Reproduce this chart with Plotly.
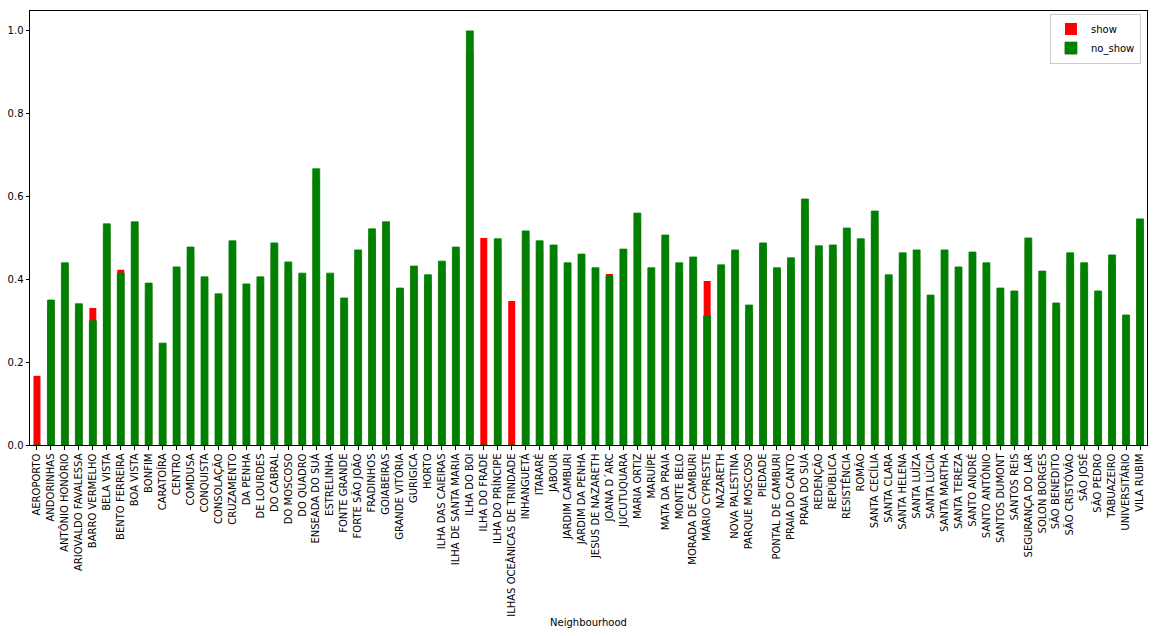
import plotly.graph_objects as go

neighbourhoods = [
    "AEROPORTO", "ANDORINHAS", "ANTÔNIO HONÓRIO", "ARIOVALDO FAVALESSA", "BARRO VERMELHO",
    "BELA VISTA", "BENTO FERREIRA", "BOA VISTA", "BONFIM", "CARATOÍRA",
    "CENTRO", "COMDUSA", "CONQUISTA", "CONSOLAÇÃO", "CRUZAMENTO",
    "DA PENHA", "DE LOURDES", "DO CABRAL", "DO MOSCOSO", "DO QUADRO",
    "ENSEADA DO SUÁ", "ESTRELINHA", "FONTE GRANDE", "FORTE SÃO JOÃO", "FRADINHOS",
    "GOIABEIRAS", "GRANDE VITÓRIA", "GURIGICA", "HORTO", "ILHA DAS CAIEIRAS",
    "ILHA DE SANTA MARIA", "ILHA DO BOI", "ILHA DO FRADE", "ILHA DO PRÍNCIPE",
    "ILHAS OCEÂNICAS DE TRINDADE", "INHANGUETÁ", "ITARARÉ", "JABOUR", "JARDIM CAMBURI",
    "JARDIM DA PENHA", "JESUS DE NAZARETH", "JOANA D´ARC", "JUCUTUQUARA", "MARIA ORTIZ",
    "MARUÍPE", "MATA DA PRAIA", "MONTE BELO", "MORADA DE CAMBURI", "MÁRIO CYPRESTE",
    "NAZARETH", "NOVA PALESTINA", "PARQUE MOSCOSO", "PIEDADE", "PONTAL DE CAMBURI",
    "PRAIA DO CANTO", "PRAIA DO SUÁ", "REDENÇÃO", "REPÚBLICA", "RESISTÊNCIA",
    "ROMÃO", "SANTA CECÍLIA", "SANTA CLARA", "SANTA HELENA", "SANTA LUÍZA",
    "SANTA LÚCIA", "SANTA MARTHA", "SANTA TEREZA", "SANTO ANDRÉ", "SANTO ANTÔNIO",
    "SANTOS DUMONT", "SANTOS REIS", "SEGURANÇA DO LAR", "SOLON BORGES", "SÃO BENEDITO",
    "SÃO CRISTÓVÃO", "SÃO JOSÉ", "SÃO PEDRO", "TABUAZEIRO", "UNIVERSITÁRIO", "VILA RUBIM",
]

# no_show values (green bars, drawn on top)
no_show = [
    0.000, 0.350, 0.440, 0.341, 0.300,
    0.534, 0.415, 0.539, 0.391, 0.246,
    0.430, 0.478, 0.406, 0.365, 0.493,
    0.389, 0.406, 0.488, 0.442, 0.415,
    0.667, 0.415, 0.355, 0.471, 0.522,
    0.539, 0.379, 0.432, 0.411, 0.444,
    0.478, 1.000, 0.000, 0.498,
    0.000, 0.517, 0.493, 0.483, 0.440,
    0.461, 0.428, 0.408, 0.473, 0.560,
    0.428, 0.507, 0.440, 0.454, 0.312,
    0.435, 0.471, 0.338, 0.488, 0.428,
    0.452, 0.594, 0.481, 0.483, 0.524,
    0.498, 0.565, 0.411, 0.464, 0.471,
    0.362, 0.471, 0.430, 0.466, 0.440,
    0.379, 0.372, 0.500, 0.420, 0.343,
    0.464, 0.440, 0.372, 0.459, 0.314, 0.546,
]

# show values (red bars, drawn underneath; mostly hidden behind green)
show = [
    0.167, 0.330, 0.420, 0.320, 0.331,
    0.510, 0.423, 0.520, 0.370, 0.230,
    0.410, 0.460, 0.390, 0.350, 0.470,
    0.370, 0.390, 0.470, 0.420, 0.400,
    0.640, 0.400, 0.340, 0.450, 0.500,
    0.520, 0.360, 0.410, 0.390, 0.420,
    0.460, 0.950, 0.500, 0.480,
    0.348, 0.500, 0.470, 0.460, 0.420,
    0.440, 0.410, 0.413, 0.450, 0.540,
    0.410, 0.490, 0.420, 0.430, 0.396,
    0.420, 0.450, 0.320, 0.470, 0.410,
    0.430, 0.570, 0.460, 0.460, 0.500,
    0.480, 0.540, 0.390, 0.440, 0.450,
    0.340, 0.450, 0.410, 0.450, 0.420,
    0.360, 0.350, 0.480, 0.400, 0.330,
    0.440, 0.420, 0.350, 0.440, 0.300, 0.520,
]

y_ticks = [0.0, 0.2, 0.4, 0.6, 0.8, 1.0]

fig = go.Figure()
fig.add_trace(go.Bar(x=neighbourhoods, y=show, name="show", marker_color="#ff0000",
                     marker_line_width=0, width=0.5, opacity=1))
fig.add_trace(go.Bar(x=neighbourhoods, y=no_show, name="no_show", marker_color="#008000",
                     marker_line=dict(color="#008000", width=0.8), width=0.5, opacity=1))

font_family = "DejaVu Sans"
fig.update_layout(
    width=1156, height=636,
    barmode="overlay",
    paper_bgcolor="white", plot_bgcolor="white",
    margin=dict(l=30, r=9, t=11, b=191, autoexpand=False),
    font=dict(family=font_family, size=10, color="#000000"),
    showlegend=True,
    legend=dict(x=0.9946, y=0.994, xanchor="right", yanchor="top",
                bgcolor="rgba(255,255,255,0.8)", bordercolor="#cccccc", borderwidth=1,
                font=dict(size=10), traceorder="normal",
                itemwidth=30, tracegroupgap=0),
)
fig.update_xaxes(
    type="category", range=[-0.5, len(neighbourhoods) - 0.5],
    tickangle=-90, ticks="outside", ticklen=3.5, tickcolor="#000000",
    showline=True, linecolor="#000000", linewidth=1, mirror=True,
    showgrid=False, automargin=False,
    title=dict(text="Neighbourhood", font=dict(size=10), standoff=3),
    tickfont=dict(size=10),
)
fig.update_yaxes(
    range=[0, 1.048], tickvals=y_ticks, ticktext=[f"{v:.1f}" for v in y_ticks],
    ticks="outside", ticklen=3.5, tickcolor="#000000",
    showline=True, linecolor="#000000", linewidth=1, mirror=True,
    showgrid=False, zeroline=False, automargin=False,
    tickfont=dict(size=10),
)

fig.write_html("out.html", config={"displayModeBar": False},
               post_script="document.body.style.margin='0';document.body.style.overflow='hidden';")
